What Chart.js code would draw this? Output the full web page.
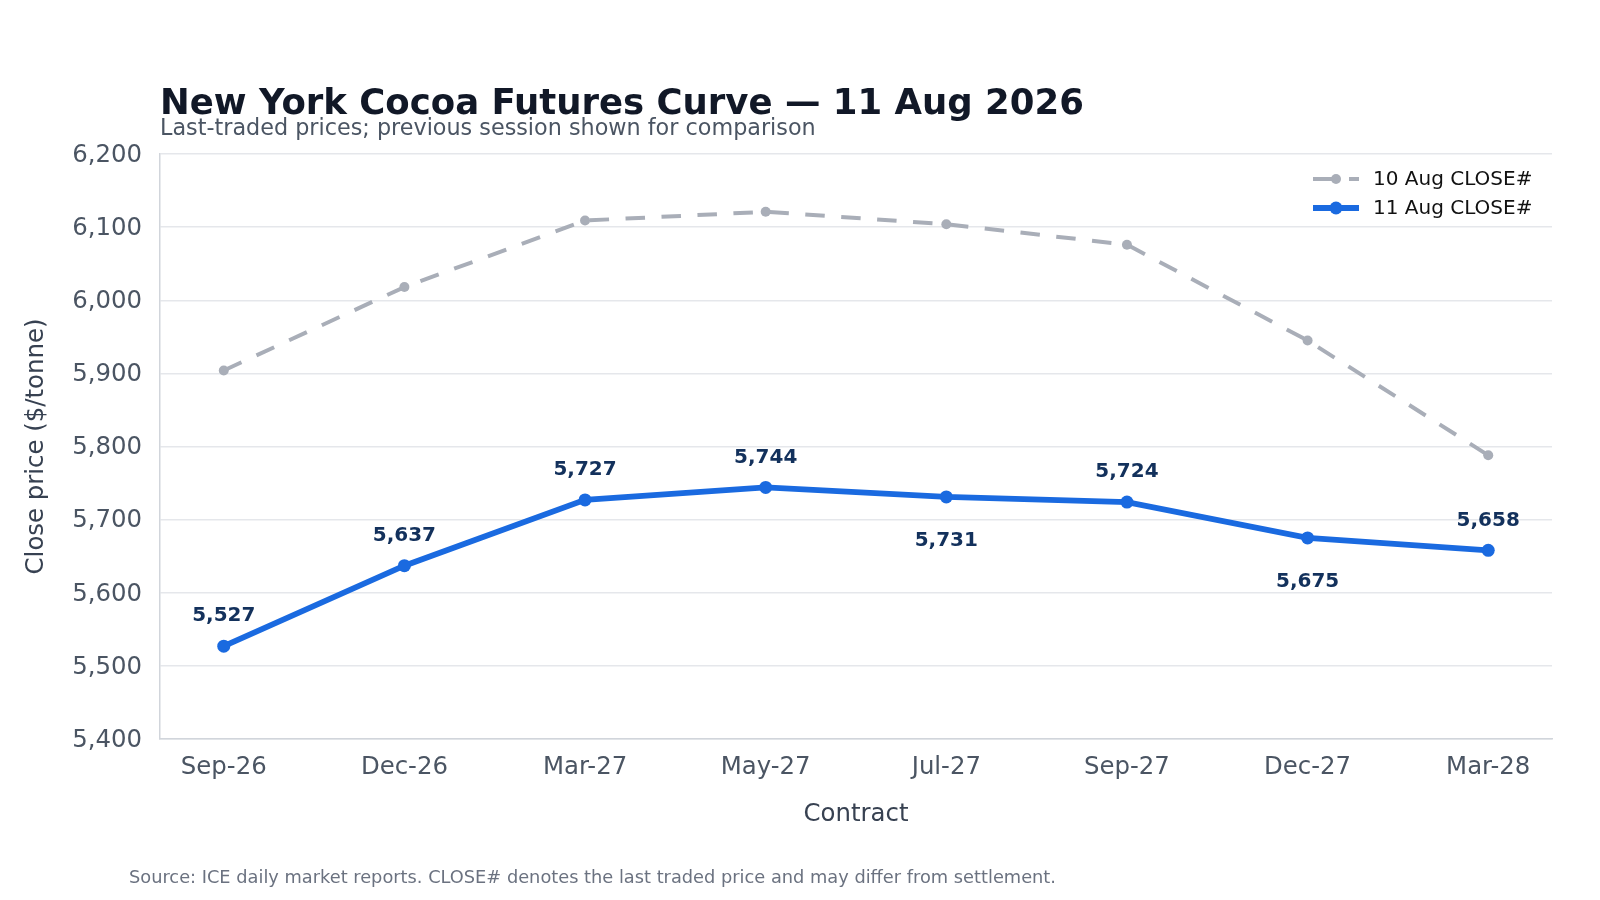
<!DOCTYPE html>
<html>
<head>
<meta charset="utf-8">
<script src="https://cdn.jsdelivr.net/npm/chart.js@4/dist/chart.umd.min.js"></script>
<style>
  html, body { margin: 0; padding: 0; background: #ffffff; }
  #wrap { position: relative; width: 1600px; height: 900px; }
  canvas { display: block; }
</style>
</head>
<body>
<div id="wrap"><canvas id="c" width="1600" height="900"></canvas></div>
<script>
// ---- data ----
const contracts = ['Sep-26', 'Dec-26', 'Mar-27', 'May-27', 'Jul-27', 'Sep-27', 'Dec-27', 'Mar-28'];
const close10Aug = [5904, 6018, 6109, 6121, 6104, 6076, 5945, 5788];
const close11Aug = [5527, 5637, 5727, 5744, 5731, 5724, 5675, 5658];
const labelSide11Aug = ['above', 'above', 'above', 'above', 'below', 'above', 'below', 'above'];
const yTicks = [5400, 5500, 5600, 5700, 5800, 5900, 6000, 6100, 6200];

const titleText = 'New York Cocoa Futures Curve \u2014 11 Aug 2026';
const subtitleText = 'Last-traded prices; previous session shown for comparison';
const footerText = 'Source: ICE daily market reports. CLOSE# denotes the last traded price and may differ from settlement.';

const FONT = "'DejaVu Sans', Verdana, sans-serif";
const BLUE = '#1a6ae0';
const GREY = '#a9aeb8';
const fmt = v => v.toLocaleString('en-US');

const textPlugin = {
  id: 'texts',
  afterDraw(chart) {
    const ctx = chart.ctx;
    const area = chart.chartArea;
    ctx.save();
    ctx.textAlign = 'left';
    ctx.textBaseline = 'alphabetic';
    ctx.fillStyle = '#111827';
    ctx.font = `bold 35.5px ${FONT}`;
    ctx.fillText(titleText, area.left, 114);
    ctx.fillStyle = '#4b5563';
    ctx.font = `22.3px ${FONT}`;
    ctx.fillText(subtitleText, area.left, 135);
    ctx.fillStyle = '#6b7280';
    ctx.font = `17.8px ${FONT}`;
    ctx.fillText(footerText, 129, 883);
    ctx.restore();
  }
};

const valueLabelPlugin = {
  id: 'valueLabels',
  afterDatasetsDraw(chart) {
    const ctx = chart.ctx;
    const meta = chart.getDatasetMeta(1);
    ctx.save();
    ctx.font = `bold 20px ${FONT}`;
    ctx.fillStyle = '#13315c';
    ctx.textAlign = 'center';
    ctx.textBaseline = 'middle';
    meta.data.forEach((pt, i) => {
      const dy = labelSide11Aug[i] === 'above' ? -30 : 44;
      ctx.fillText(fmt(close11Aug[i]), pt.x, pt.y + dy);
    });
    ctx.restore();
  }
};

const legendPlugin = {
  id: 'lineLegend',
  afterDraw(chart) {
    const ctx = chart.ctx;
    const area = chart.chartArea;
    const x0 = area.right - 239;
    const rows = [area.top + 25, area.top + 54];
    ctx.save();
    chart.data.datasets.forEach((ds, i) => {
      const y = rows[i];
      ctx.strokeStyle = ds.borderColor;
      ctx.lineWidth = ds.borderWidth;
      ctx.setLineDash(ds.borderDash || []);
      ctx.beginPath();
      ctx.moveTo(x0, y);
      ctx.lineTo(x0 + 46, y);
      ctx.stroke();
      ctx.setLineDash([]);
      ctx.fillStyle = ds.pointBackgroundColor;
      ctx.beginPath();
      ctx.arc(x0 + 23, y, ds.pointRadius, 0, Math.PI * 2);
      ctx.fill();
      ctx.fillStyle = '#111111';
      ctx.font = `20px ${FONT}`;
      ctx.textAlign = 'left';
      ctx.textBaseline = 'middle';
      ctx.fillText(ds.label, x0 + 60, y + 1);
    });
    ctx.restore();
  }
};

new Chart(document.getElementById('c'), {
  type: 'line',
  data: {
    datasets: [
      {
        label: '10 Aug CLOSE#',
        data: close10Aug.map((v, i) => ({ x: i, y: v })),
        borderColor: GREY,
        backgroundColor: GREY,
        pointBackgroundColor: GREY,
        pointBorderColor: GREY,
        borderWidth: 4,
        borderDash: [19.5, 16.5],
        pointRadius: 5,
        pointBorderWidth: 0,
        tension: 0
      },
      {
        label: '11 Aug CLOSE#',
        data: close11Aug.map((v, i) => ({ x: i, y: v })),
        borderColor: BLUE,
        backgroundColor: BLUE,
        pointBackgroundColor: BLUE,
        pointBorderColor: BLUE,
        borderWidth: 5.8,
        pointRadius: 6.5,
        pointBorderWidth: 0,
        tension: 0
      }
    ]
  },
  options: {
    responsive: false,
    animation: false,
    devicePixelRatio: 1,
    layout: { padding: { left: 0, right: 48, top: 154, bottom: 61 } },
    plugins: {
      legend: { display: false },
      tooltip: { enabled: false },
      title: { display: false }
    },
    scales: {
      x: {
        type: 'linear',
        min: -0.353,
        max: contracts.length - 1 + 0.353,
        afterBuildTicks: axis => { axis.ticks = contracts.map((_, i) => ({ value: i })); },
        afterFit: axis => { axis.height = 100; },
        ticks: {
          callback: v => contracts[v],
          font: { family: FONT, size: 24.4 },
          color: '#4b5563',
          padding: 14.5,
          maxRotation: 0,
          autoSkip: false
        },
        grid: { display: false, drawTicks: false },
        border: { display: true, color: '#d1d5db', width: 1.5 },
        title: {
          display: true,
          text: 'Contract',
          font: { family: FONT, size: 24.4 },
          color: '#374151',
          padding: { top: 0, bottom: 9.5 }
        }
      },
      y: {
        min: 5400,
        max: 6200,
        afterBuildTicks: axis => { axis.ticks = yTicks.map(v => ({ value: v })); },
        afterFit: axis => { axis.width = 160; },
        ticks: {
          callback: v => fmt(v),
          font: { family: FONT, size: 24.4 },
          color: '#4b5563',
          padding: 18,
          labelOffset: 1.5
        },
        grid: { color: '#e5e7eb', lineWidth: 1.5, drawTicks: false },
        border: { display: true, color: '#d1d5db', width: 1.5 },
        title: {
          display: true,
          text: 'Close price ($/tonne)',
          font: { family: FONT, size: 24.4 },
          color: '#374151',
          padding: { top: 22, bottom: 0 }
        }
      }
    }
  },
  plugins: [textPlugin, valueLabelPlugin, legendPlugin]
});
</script>
</body>
</html>
